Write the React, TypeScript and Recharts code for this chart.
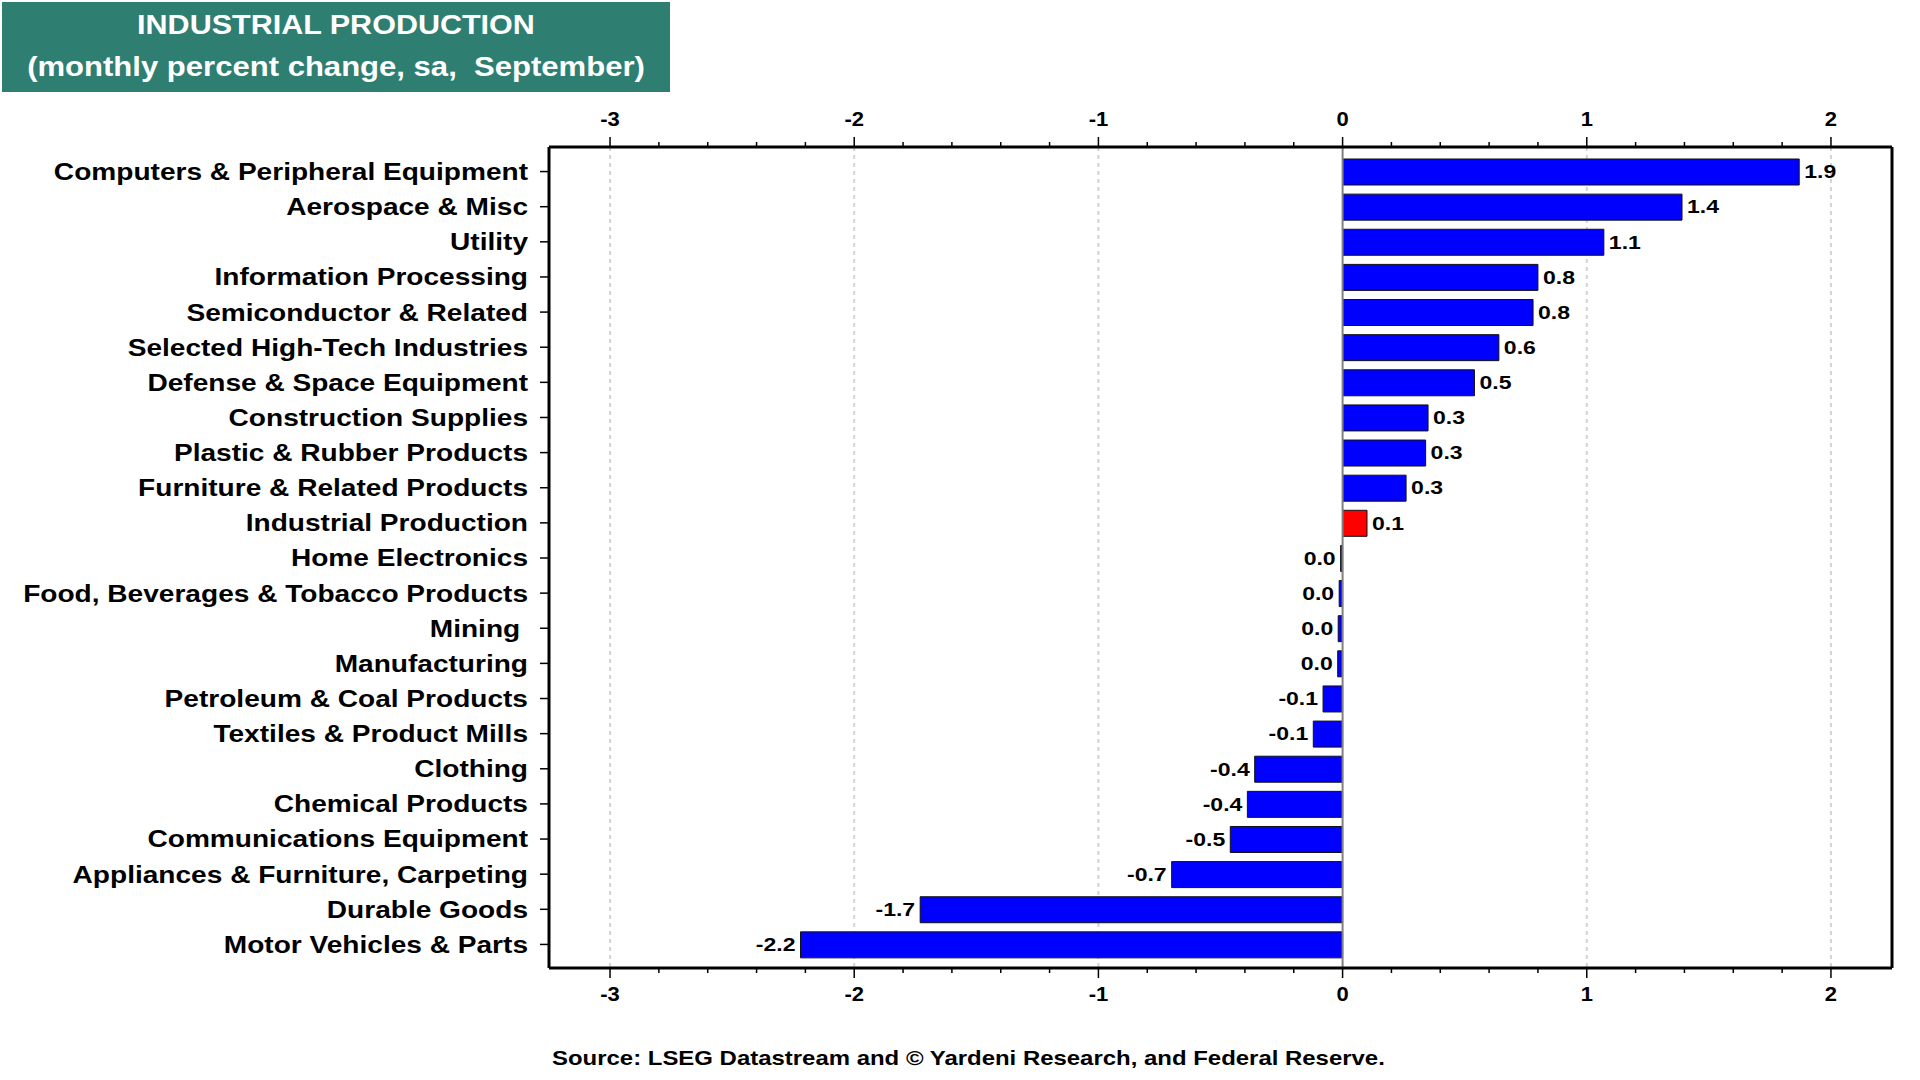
import {
  BarChart,
  Bar,
  XAxis,
  YAxis,
  Cell,
  LabelList,
  ReferenceLine,
  CartesianGrid,
} from "recharts";

const FONT = '"Liberation Sans", Arial, Helvetica, sans-serif';

const categories = [
  "Computers & Peripheral Equipment",
  "Aerospace & Misc",
  "Utility",
  "Information Processing",
  "Semiconductor & Related",
  "Selected High-Tech Industries",
  "Defense & Space Equipment",
  "Construction Supplies",
  "Plastic & Rubber Products",
  "Furniture & Related Products",
  "Industrial Production",
  "Home Electronics",
  "Food, Beverages & Tobacco Products",
  "Mining ",
  "Manufacturing",
  "Petroleum & Coal Products",
  "Textiles & Product Mills",
  "Clothing",
  "Chemical Products",
  "Communications Equipment",
  "Appliances & Furniture, Carpeting",
  "Durable Goods",
  "Motor Vehicles & Parts",
];

const values = [
  1.87, 1.39, 1.07, 0.8, 0.78, 0.64, 0.54, 0.35, 0.34, 0.26, 0.1, -0.008,
  -0.014, -0.018, -0.02, -0.08, -0.12, -0.36, -0.39, -0.46, -0.7, -1.73,
  -2.22,
];

const highlighted = "Industrial Production";

const majorTicks = [-3, -2, -1, 0, 1, 2];
const axisTicks = [
  -3, -2.8, -2.6, -2.4, -2.2, -2, -1.8, -1.6, -1.4, -1.2, -1, -0.8, -0.6,
  -0.4, -0.2, 0, 0.2, 0.4, 0.6, 0.8, 1, 1.2, 1.4, 1.6, 1.8, 2,
];
const gridLines = [-3, -2, -1, 1, 2];

const data = categories.map((name, i) => ({ name, value: values[i] }));

const fmt = (v: number) => (Math.abs(v) < 0.05 ? "0.0" : v.toFixed(1));

// the original picture is stretched sideways, so text gets a horizontal scale
const Stretched = ({ x, y, sx, size, anchor, children }: any) => (
  <text
    transform={`translate(${x},${y}) scale(${sx},1)`}
    dy="0.35em"
    textAnchor={anchor}
    fontFamily={FONT}
    fontWeight="bold"
    fontSize={size}
    fill="#000"
    style={{ whiteSpace: "pre" }}
  >
    {children}
  </text>
);

const AxisTick = (props: any) => {
  const { x, y, payload, side } = props;
  const v = payload.value;
  const major = majorTicks.includes(v);
  const dir = side === "top" ? -1 : 1;
  const len = major ? 10 : 5;
  return (
    <g>
      <line x1={x} x2={x} y1={y} y2={y + dir * len} stroke="#000" strokeWidth={1.5} />
      {major && (
        <Stretched x={x} y={y + dir * (side === "top" ? 28 : 26)} sx={1.1} size={20} anchor="middle">
          {v}
        </Stretched>
      )}
    </g>
  );
};

const CategoryTick = (props: any) => {
  const { x, y, payload } = props;
  return (
    <Stretched x={x} y={y} sx={1.17} size={24} anchor="end">
      {payload.value}
    </Stretched>
  );
};

const ValueLabel = (props: any) => {
  const { x, y, width, height, value } = props;
  const left = Math.min(x, x + width);
  const right = Math.max(x, x + width);
  const pos = value >= 0;
  return (
    <Stretched
      x={pos ? right + 5 : left - 5}
      y={y + height / 2}
      sx={1.28}
      size={18}
      anchor={pos ? "start" : "end"}
    >
      {fmt(value)}
    </Stretched>
  );
};

export default function App() {
  return (
    <div
      style={{
        position: "absolute",
        left: 0,
        top: 0,
        width: 1920,
        height: 1080,
        background: "#fff",
        fontFamily: FONT,
      }}
    >
      <div
        style={{
          position: "absolute",
          left: 2,
          top: 2,
          width: 668,
          height: 90,
          background: "#2f7e72",
          color: "#fff",
          fontWeight: "bold",
          fontSize: 27,
          textAlign: "center",
          whiteSpace: "pre",
          lineHeight: "42px",
          paddingTop: 2,
          boxSizing: "border-box",
        }}
      >
        <div style={{ transform: "scaleX(1.13)" }}>INDUSTRIAL PRODUCTION</div>
        <div style={{ transform: "scaleX(1.15)" }}>(monthly percent change, sa,  September)</div>
      </div>

      <BarChart
        width={1920}
        height={1080}
        layout="vertical"
        data={data}
        margin={{ top: 107, right: 27, bottom: 72, left: 0 }}
      >
        <CartesianGrid
          xAxisId="bottom"
          horizontal={false}
          verticalValues={gridLines}
          stroke="#d4d4d4"
          strokeWidth={2}
          strokeDasharray="4 4"
        />
        <XAxis
          xAxisId="top"
          orientation="top"
          type="number"
          domain={[-3.25, 2.25]}
          allowDataOverflow
          ticks={axisTicks}
          interval={0}
          height={40}
          tickSize={0}
          tickMargin={0}
          tickLine={false}
          axisLine={{ stroke: "#000", strokeWidth: 3 }}
          tick={<AxisTick side="top" />}
        />
        <XAxis
          xAxisId="bottom"
          orientation="bottom"
          type="number"
          domain={[-3.25, 2.25]}
          allowDataOverflow
          ticks={axisTicks}
          interval={0}
          height={40}
          tickSize={0}
          tickMargin={0}
          tickLine={false}
          axisLine={{ stroke: "#000", strokeWidth: 3 }}
          tick={<AxisTick side="bottom" />}
        />
        <YAxis
          type="category"
          dataKey="name"
          width={549}
          interval={0}
          padding={{ top: 7, bottom: 6 }}
          tickSize={9}
          tickMargin={12}
          tickLine={{ stroke: "#000", strokeWidth: 1.5 }}
          axisLine={{ stroke: "#000", strokeWidth: 3 }}
          tick={<CategoryTick />}
        />
        <YAxis
          yAxisId="right"
          orientation="right"
          type="category"
          dataKey="name"
          width={1}
          tick={false}
          tickLine={false}
          axisLine={{ stroke: "#000", strokeWidth: 3 }}
        />
        <ReferenceLine x={0} xAxisId="bottom" stroke="#808080" strokeWidth={2} />
        <Bar
          dataKey="value"
          xAxisId="bottom"
          barSize={26}
          stroke="#111"
          strokeWidth={1}
          isAnimationActive={false}
        >
          {data.map((d) => (
            <Cell key={d.name} fill={d.name === highlighted ? "#ff0000" : "#0000ff"} />
          ))}
          <LabelList dataKey="value" content={<ValueLabel />} />
        </Bar>
      </BarChart>

      <div
        style={{
          position: "absolute",
          left: 552,
          top: 1046,
          fontWeight: "bold",
          fontSize: 21,
          color: "#000",
          whiteSpace: "nowrap",
          transform: "scaleX(1.14)",
          transformOrigin: "left center",
        }}
      >
        Source: LSEG Datastream and © Yardeni Research, and Federal Reserve.
      </div>
    </div>
  );
}
